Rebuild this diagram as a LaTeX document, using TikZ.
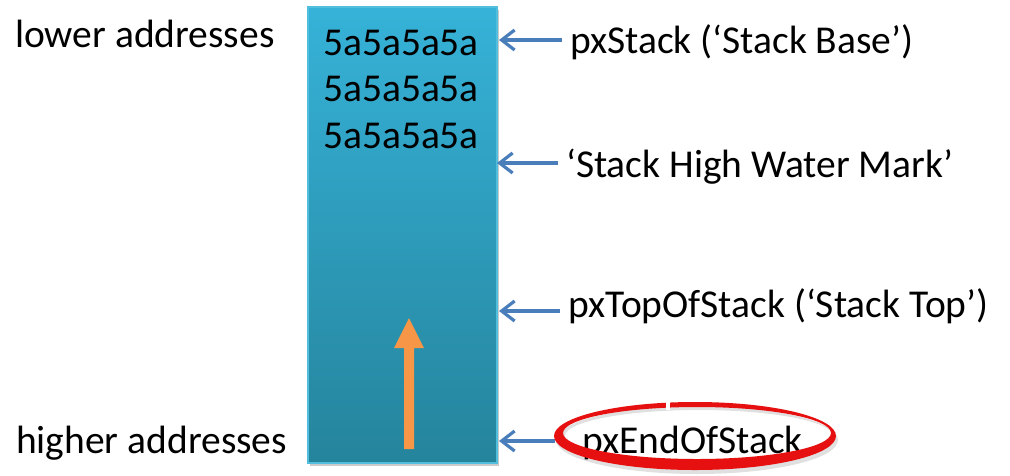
\documentclass[tikz,border=0pt]{standalone}
\usepackage{fontspec}
\setmainfont{Carlito}
\usetikzlibrary{arrows.meta,shadows,positioning}
\definecolor{stacktop}{RGB}{54,178,216}
\definecolor{stackbot}{RGB}{37,132,156}
\definecolor{stackedge}{RGB}{80,190,220}
\definecolor{ptrblue}{RGB}{74,126,187}
\definecolor{uporange}{RGB}{247,150,70}
\definecolor{ringred}{RGB}{230,16,16}
\begin{document}
\begin{tikzpicture}[x=1pt,y=-1pt,
  txt/.style={font=\fontsize{39.5}{46}\selectfont, inner xsep=8pt, inner ysep=0pt},
  ptr/.style={draw=ptrblue, line width=3.2pt, -{Straight Barb[length=13pt,width=20pt,line width=3.2pt]}},
  stackbox/.style={draw=stackedge, line width=1.5pt, top color=stacktop, bottom color=stackbot,
    inner sep=0pt, minimum width=189pt, minimum height=456pt,
    drop shadow={shadow xshift=2pt, shadow yshift=-3pt, opacity=0.35, fill=black!60}}]
\useasboundingbox (0,0) rectangle (1010,475);
% stack
\node[stackbox] (stack) at (402.5,235) {};
% fill pattern lines
\node[txt, anchor=base] (w1) at (401,55) {5a5a5a5a};
\node[txt, anchor=base] (w2) at (401,101) {5a5a5a5a};
\node[txt, anchor=base] (w3) at (401,148) {5a5a5a5a};
% growth arrow
\fill[uporange] (404,449) -- (414,449) -- (414,348) -- (424,348) -- (409,318) -- (394,348) -- (404,348) -- cycle;
% side texts
\node[txt, anchor=base west, inner xsep=0pt] (lo) at (15,47) {lower addresses};
\node[txt, anchor=base west, inner xsep=0pt] (hi) at (16,453) {higher addresses};
% labels
\node[txt, anchor=base west] (l1) at (562,53) {pxStack (‘Stack Base’)};
\node[txt, anchor=base west] (l2) at (558,177) {‘Stack High Water Mark’};
\node[txt, anchor=base west] (l3) at (560,317) {pxTopOfStack (‘Stack Top’)};
\node[txt, anchor=base west, inner xsep=27pt] (l4) at (555,453) {pxEndOfStack};
% pointer targets
\coordinate (h1) at (499,40);
\coordinate (h2) at (497,163);
\coordinate (h3) at (499,311);
\coordinate (h4) at (499,441);
\draw[ptr] (l1.west |- h1) -- (h1);
\draw[ptr] (l2.west |- h2) -- (h2);
\draw[ptr] (l3.west |- h3) -- (h3);
\draw[ptr] (l4.west |- h4) -- (h4);
% red ring (hand-drawn look)
\fill[black, opacity=0.12, even odd rule] (697,440) ellipse [x radius=141, y radius=34]
  (699,436) ellipse [x radius=134, y radius=26];
\fill[ringred, even odd rule] (695,436) ellipse [x radius=141, y radius=34]
  (697,433) ellipse [x radius=134, y radius=26];
\fill[white] (666,398) rectangle (670,410);
\end{tikzpicture}
\end{document}
